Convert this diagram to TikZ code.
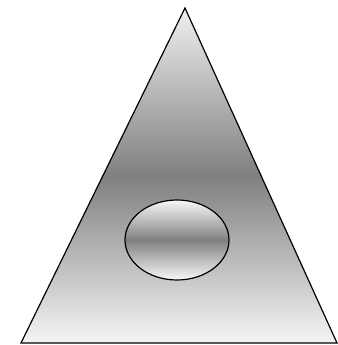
\documentclass[tikz,border=0pt]{standalone}
\usetikzlibrary{calc}

\begin{document}
\begin{tikzpicture}[x=1pt, y=-1pt, line width=1.2pt,
  bandshade/.style={top color=gray!12, bottom color=gray!8, middle color=gray}]
  \useasboundingbox (0,0) rectangle (337,345);

  \coordinate (apex) at (185,8);
  \coordinate (baseL) at (21,343);
  \coordinate (baseR) at (337,343);
  \draw[bandshade] (apex) -- (baseR) -- (baseL) -- cycle;

  \coordinate (eye) at (177,240);
  \draw[top color=gray!5, bottom color=gray!5, middle color=gray] (eye) ellipse [x radius=52, y radius=40];
\end{tikzpicture}
\end{document}
